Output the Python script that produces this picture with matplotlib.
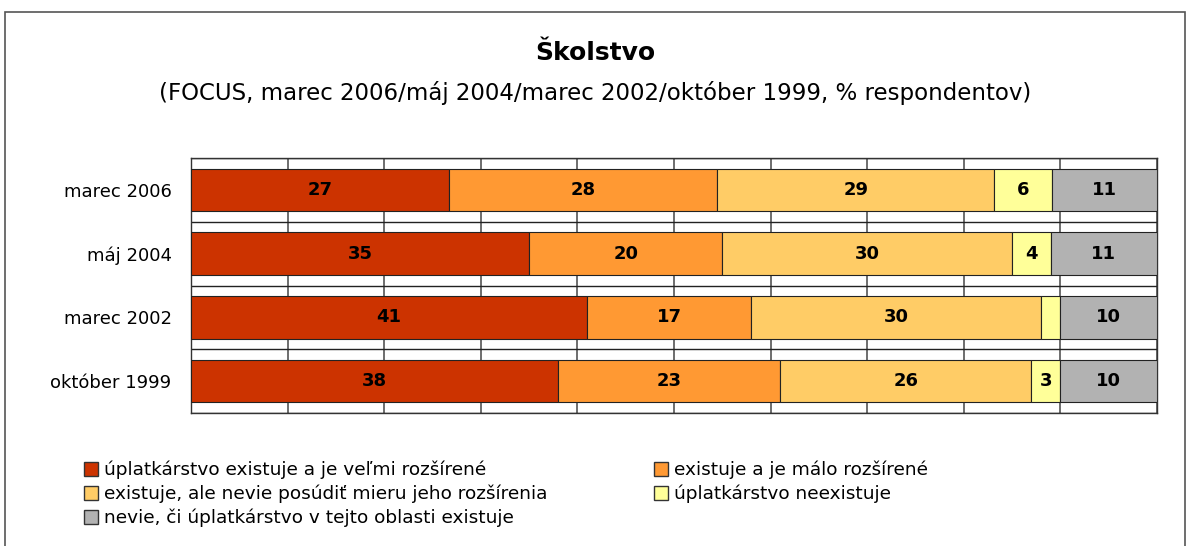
import numpy as np
import matplotlib.pyplot as plt
from matplotlib.patches import Rectangle, Patch

plt.rcParams['font.family'] = ['DejaVu Sans']

categories = ["marec 2006", "máj 2004", "marec 2002", "október 1999"]
series = [
    "úplatkárstvo existuje a je veľmi rozšírené",
    "existuje a je málo rozšírené",
    "existuje, ale nevie posúdiť mieru jeho rozšírenia",
    "úplatkárstvo neexistuje",
    "nevie, či úplatkárstvo v tejto oblasti existuje",
]
values = [
    [27, 35, 41, 38],
    [28, 20, 17, 23],
    [29, 30, 30, 26],
    [6, 4, 2, 3],
    [11, 11, 10, 10],
]
colors = ["#CC3300", "#FF9933", "#FFCC66", "#FFFF99", "#B2B2B2"]

vals = np.array(values, dtype=float)
pct = vals / vals.sum(axis=0) * 100  # 100% stacked

fig = plt.figure(figsize=(11.9, 5.46), dpi=100)
fig.patches.append(Rectangle((0.004, -0.1), 0.992, 1.078, transform=fig.transFigure,
                             fill=False, edgecolor="#555555", linewidth=1.2))

ax = fig.add_axes([0.1605, 0.2436, 0.8118, 0.467])
y = np.arange(len(categories))
left = np.zeros(len(categories))
for i in range(len(series)):
    ax.barh(y, pct[i], left=left, height=0.67, color=colors[i],
            edgecolor="#222222", linewidth=0.8, label=series[i], zorder=3)
    for j in range(len(categories)):
        if values[i][j] >= 3:
            ax.text(left[j] + pct[i][j] / 2, y[j], str(values[i][j]),
                    ha="center", va="center", fontsize=13, fontweight="bold", zorder=4)
    left += pct[i]

ax.set_xlim(0, 100)
ax.set_ylim(len(categories) - 0.5, -0.5)
ax.set_xticks(np.arange(0, 101, 10))
ax.set_xticklabels([])
ax.set_yticks(y)
ax.set_yticklabels(categories, fontsize=13)
ax.tick_params(axis="both", length=0, pad=14)
ax.set_yticks(np.arange(-0.5, len(categories), 1), minor=True)
ax.tick_params(axis="y", which="minor", length=0)
ax.grid(axis="x", which="major", color="#555555", linewidth=1.2, zorder=0)
ax.grid(axis="y", which="minor", color="#222222", linewidth=1.0, zorder=0)
for s in ax.spines.values():
    s.set_color("#333333")
    s.set_linewidth(1.0)

fig.text(0.5, 0.903, "Školstvo", ha="center", va="center", fontsize=18, fontweight="bold")
fig.text(0.5, 0.830, "(FOCUS, marec 2006/máj 2004/marec 2002/október 1999, % respondentov)",
         ha="center", va="center", fontsize=16.5)

order = [0, 2, 4, 1, 3]
handles = [Patch(facecolor=colors[k], edgecolor="#333333", linewidth=1.0) for k in order]
labels = [series[k] for k in order]
fig.legend(handles, labels, ncol=2, loc="upper left", bbox_to_anchor=(0.063, 0.173),
           frameon=False, fontsize=13.3, handlelength=0.75, handleheight=0.75,
           handletextpad=0.3, labelspacing=0.3, columnspacing=5.8, borderpad=0)

fig.savefig("out.png", dpi=100)
